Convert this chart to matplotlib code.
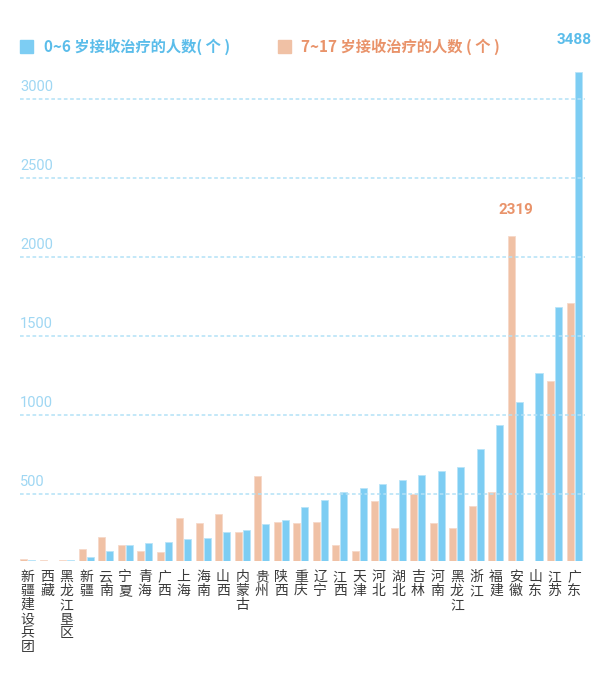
import matplotlib
matplotlib.use("Agg")
import matplotlib.pyplot as plt
from matplotlib.patches import Rectangle
import numpy as np

plt.rcParams['font.family'] = ['Noto Sans CJK SC', 'DejaVu Sans']

provinces = ['新疆建设兵团', '西藏', '黑龙江垦区', '新疆', '云南', '宁夏', '青海', '广西',
             '上海', '海南', '山西', '内蒙古', '贵州', '陕西', '重庆', '辽宁', '江西',
             '天津', '河北', '湖北', '吉林', '河南', '黑龙江', '浙江', '福建', '安徽',
             '山东', '江苏', '广东']
# 7~17 岁
older = [17, 6, 6, 83, 173, 114, 71, 62, 309, 269, 333, 209, 606, 278, 271, 280, 114,
         73, 428, 235, 476, 271, 238, 390, 490, 2319, 0, 1284, 1838]
# 0~6 岁
young = [4, 3, 6, 31, 69, 116, 126, 136, 155, 163, 205, 220, 262, 290, 383, 437, 492,
         523, 546, 578, 611, 644, 668, 799, 970, 1136, 1341, 1810, 3488]
grid_vals = [500, 1000, 1500, 2000, 2500, 3000]

BLUE = '#7dcdf3'
SALMON = '#f0c1a5'
BLUE_TXT = '#5bbdea'
SALMON_TXT = '#e9936a'

fig = plt.figure(figsize=[6.0, 6.89], dpi=100)
ax = fig.add_axes([18/600, 128/689, 574/600, 501/689])
ax2 = ax.twinx()

x = np.arange(len(provinces))
w = 0.36
ax.bar(x - 0.205, older, w, color=SALMON, edgecolor='#f6d9c9', linewidth=0.6, zorder=2)
ax.bar(x + 0.205, young, w, color=BLUE, edgecolor='#b9e4f8', linewidth=0.6, zorder=2)
ax.set_xlim(-0.487, 28.92)
ax.set_ylim(0, 3573)

# value labels for the two tallest bars
ax.annotate('3488', (x[-1], young[-1]), xytext=(0, 18), textcoords='offset points',
            ha='center', va='bottom', color=BLUE_TXT, fontsize=11, fontweight='bold',
            family=['Roboto', 'DejaVu Sans'], annotation_clip=False)
ax.annotate('2319', (x[25], older[25]), xytext=(0, 13.5), textcoords='offset points',
            ha='center', va='bottom', color=SALMON_TXT, fontsize=11, fontweight='bold',
            family=['Roboto', 'DejaVu Sans'], annotation_clip=False)

# category labels, stacked vertically
for i, name in enumerate(provinces):
    ax.annotate('\n'.join(name), (i, 0), xytext=(0, -6.5), textcoords='offset points',
                ha='center', va='top', fontsize=10, color='#3a3a3a', linespacing=1.0,
                fontweight='light', annotation_clip=False)

# dashed guide lines with their own scale
ax2.set_ylim(74, 3245)
ax2.hlines(grid_vals, -0.384, 28.56, colors='#b3e1f7', linestyles=(0, (2.4, 1.7)),
           linewidth=1.1, zorder=3)
for v in grid_vals:
    ax2.annotate(str(v), (-0.384, v), xytext=(0, 3.5), textcoords='offset points',
                 ha='left', va='bottom', color='#9fd7f3', fontsize=10.5,
                 family=['Roboto', 'DejaVu Sans'])

for a in (ax, ax2):
    for s in a.spines.values():
        s.set_visible(False)
    a.set_xticks([])
    a.set_yticks([])

# legend
fig.patches.append(Rectangle((20/600, 1 - 53/689), 13/600, 13/689, transform=fig.transFigure,
                             color=BLUE, figure=fig))
fig.text(44/600, 1 - 47/689, '0~6 岁接收治疗的人数( 个 )', color=BLUE_TXT, fontsize=11,
         fontweight='bold', va='center', ha='left')
fig.patches.append(Rectangle((278/600, 1 - 53/689), 13/600, 13/689, transform=fig.transFigure,
                             color=SALMON, figure=fig))
fig.text(301/600, 1 - 47/689, '7~17 岁接收治疗的人数 ( 个 )', color=SALMON_TXT, fontsize=11,
         fontweight='bold', va='center', ha='left')

fig.savefig('out.png', dpi=100)
